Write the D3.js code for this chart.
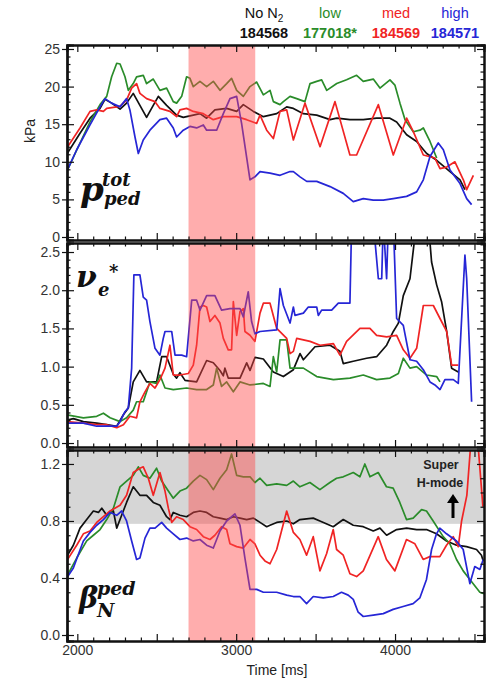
<!DOCTYPE html>
<html>
<head>
<meta charset="utf-8">
<script src="https://cdn.jsdelivr.net/npm/d3@7"></script>
<style>
body { margin: 0; background: #fff; }
svg { font-family: "Liberation Sans", Arial, sans-serif; }
.axis path { stroke: #111; stroke-width: 2; }
.axis line { stroke: #111; stroke-width: 1.2; }
.axis text { font-size: 14px; fill: #333; }
.math { font-family: "DejaVu Serif", serif; font-weight: bold; font-style: italic; fill: #111; }
</style>
</head>
<body>
<div id="chart"></div>
<script>
//Data - [time ms, value]
const shots = ['184568', '177018*', '184569', '184571'];
const shotNames = ['No N', 'low', 'med', 'high'];
const shotColors = ['#111111', '#2a8c2a', '#f02424', '#2626d6'];

// p_ped^tot (kPa)
const pBlack = [[1933,11.0],[2017,13.8],[2080,15.8],[2143,17.1],[2174,18.3],[2216,17.8],[2269,17.0],[2310,17.8],[2352,19.1],[2394,17.5],[2436,15.9],[2478,17.5],[2510,18.7],[2562,17.5],[2625,16.2],[2667,15.9],[2730,16.2],[2772,16.4],[2814,15.8],[2866,16.9],[2940,17.1],[3003,16.7],[3045,17.6],[3108,16.7],[3171,16.0],[3213,16.2],[3255,16.4],[3318,17.3],[3360,17.1],[3423,16.4],[3507,16.2],[3591,15.6],[3633,15.8],[3716,15.6],[3800,15.6],[3884,15.8],[3968,15.8],[4010,15.3],[4073,13.6],[4136,12.7],[4199,11.1],[4262,10.2],[4346,8.7],[4409,7.6],[4440,6.3]];
const pGreen = [[1933,8.7],[2017,12.5],[2080,15.3],[2143,17.6],[2185,18.7],[2216,21.3],[2248,23.1],[2269,23.0],[2300,21.3],[2321,19.5],[2352,20.4],[2373,21.3],[2415,21.5],[2436,20.4],[2478,21.0],[2520,19.5],[2562,19.8],[2604,18.0],[2625,17.8],[2657,18.7],[2688,21.3],[2709,21.1],[2730,20.0],[2772,20.7],[2814,20.0],[2856,20.7],[2898,19.5],[2940,20.4],[2971,21.1],[3003,19.5],[3045,18.7],[3087,20.0],[3129,20.6],[3171,18.9],[3213,19.5],[3234,18.0],[3276,17.6],[3297,18.0],[3339,18.7],[3381,18.4],[3433,18.0],[3465,20.4],[3507,20.7],[3538,20.9],[3570,19.5],[3633,20.4],[3695,20.9],[3758,21.5],[3800,20.7],[3863,21.0],[3905,19.8],[3968,20.9],[3999,20.2],[4031,17.8],[4063,15.6],[4115,14.0],[4157,14.2],[4178,14.5],[4220,12.7],[4262,10.5]];
const pRed = [[1933,11.8],[2017,14.5],[2080,16.7],[2122,16.9],[2164,16.7],[2185,17.1],[2248,17.3],[2269,17.4],[2310,18.2],[2342,19.8],[2373,20.4],[2394,19.1],[2436,18.4],[2489,18.0],[2520,17.1],[2583,16.7],[2625,16.0],[2646,16.9],[2688,17.1],[2730,16.7],[2793,16.4],[2856,15.6],[2919,16.0],[3003,16.0],[3066,15.6],[3129,15.1],[3150,16.2],[3192,14.2],[3234,13.1],[3276,16.7],[3318,16.9],[3360,12.9],[3433,17.8],[3528,12.0],[3622,18.0],[3716,10.9],[3758,10.9],[3895,17.6],[3989,10.9],[4073,15.8],[4115,14.0],[4178,10.9],[4251,10.5],[4283,9.1],[4325,9.3],[4377,10.0],[4430,7.6],[4451,6.3],[4493,8.2]];
const pBlue = [[1933,8.7],[1996,11.6],[2080,14.9],[2143,17.3],[2174,18.4],[2216,17.8],[2269,17.3],[2310,18.4],[2331,16.9],[2363,13.3],[2384,11.1],[2415,12.9],[2457,14.2],[2520,15.6],[2562,15.8],[2604,14.5],[2625,13.3],[2667,14.2],[2709,14.7],[2751,14.5],[2793,14.9],[2814,14.2],[2877,14.2],[2919,16.4],[2961,18.4],[3003,18.7],[3034,15.1],[3087,7.6],[3118,8.0],[3150,8.7],[3213,8.5],[3276,8.2],[3339,8.7],[3360,8.7],[3402,8.0],[3444,7.4],[3507,7.4],[3591,6.7],[3674,5.8],[3737,4.7],[3800,5.1],[3863,4.9],[3926,4.9],[3989,5.1],[4073,5.4],[4136,6.0],[4178,7.6],[4220,10.7],[4272,12.5],[4304,11.6],[4346,8.9],[4409,7.1],[4451,5.1],[4482,4.3]];

// nu_e^*
const nuBlack = [[1933,0.30],[1975,0.32],[2038,0.28],[2122,0.26],[2185,0.24],[2248,0.22],[2290,0.37],[2321,0.46],[2352,0.80],[2394,0.95],[2436,0.80],[2499,0.80],[2531,1.13],[2562,1.13],[2604,0.90],[2625,0.85],[2646,0.92],[2678,0.82],[2751,0.80],[2814,1.08],[2856,1.05],[2898,0.95],[2919,0.88],[2929,0.98],[2950,0.85],[3024,0.85],[3066,1.05],[3087,0.95],[3118,1.12],[3171,1.10],[3234,0.93],[3297,0.87],[3360,0.96],[3402,1.17],[3423,1.09],[3496,1.26],[3591,1.28],[3653,1.20],[3674,1.04],[3737,1.07],[3821,1.11],[3884,1.13],[3947,1.28],[3989,1.46],[4021,1.57],[4052,1.93],[4094,2.15],[4136,2.9],[4209,2.9],[4230,2.37],[4262,2.07],[4293,1.85],[4325,1.46],[4356,0.98],[4398,0.93]];
const nuGreen = [[1933,0.37],[2038,0.33],[2122,0.35],[2164,0.39],[2206,0.33],[2269,0.28],[2310,0.33],[2352,0.43],[2373,0.54],[2415,0.54],[2457,0.80],[2499,0.78],[2520,0.89],[2552,0.72],[2604,0.70],[2688,0.72],[2751,0.70],[2814,0.70],[2856,0.76],[2877,0.98],[2908,0.74],[2940,0.80],[2982,0.67],[3024,0.80],[3087,0.76],[3171,0.78],[3213,0.74],[3234,1.13],[3255,0.93],[3276,1.35],[3318,1.35],[3339,0.98],[3423,0.98],[3507,0.87],[3612,0.83],[3716,0.85],[3800,0.89],[3884,0.83],[3968,0.85],[4021,0.91],[4052,1.11],[4094,0.98],[4136,1.00],[4199,0.89],[4262,0.87],[4283,0.80]];
const nuRed = [[1933,0.28],[2038,0.26],[2122,0.24],[2185,0.24],[2248,0.20],[2290,0.24],[2331,0.35],[2373,0.33],[2394,0.54],[2426,0.67],[2457,0.78],[2489,0.72],[2520,0.83],[2552,0.98],[2583,1.28],[2604,0.89],[2646,0.89],[2699,0.91],[2730,1.02],[2751,1.28],[2772,1.78],[2793,1.80],[2814,1.78],[2835,1.59],[2866,1.67],[2898,1.57],[2919,1.37],[2950,1.22],[2971,1.22],[2982,1.85],[3003,1.41],[3024,1.72],[3045,1.76],[3055,1.46],[3087,1.41],[3118,1.33],[3150,1.70],[3171,1.83],[3213,1.83],[3255,1.50],[3318,1.37],[3339,1.17],[3360,1.20],[3381,1.37],[3465,1.33],[3528,1.28],[3612,1.30],[3653,1.15],[3695,1.33],[3779,1.50],[3842,1.50],[3884,1.41],[3947,1.39],[4010,1.41],[4052,1.22],[4094,1.11],[4136,1.24],[4178,1.80],[4241,1.80],[4283,1.63],[4325,1.46],[4356,1.02],[4398,1.02]];
const nuBlue = [[1933,0.26],[2038,0.26],[2122,0.22],[2248,0.22],[2269,0.28],[2300,0.41],[2321,0.46],[2342,0.98],[2356,2.20],[2394,2.20],[2415,1.91],[2436,1.87],[2457,1.59],[2489,1.24],[2520,1.15],[2541,1.37],[2552,1.46],[2594,1.46],[2615,1.15],[2657,1.15],[2688,1.13],[2720,1.87],[2751,1.87],[2772,1.74],[2814,1.93],[2866,1.93],[2908,1.74],[2961,1.76],[3024,1.76],[3045,1.65],[3076,1.98],[3097,1.59],[3118,1.43],[3150,1.46],[3255,1.48],[3276,2.02],[3297,1.80],[3339,1.57],[3360,1.78],[3370,1.67],[3423,1.70],[3454,1.78],[3507,1.78],[3517,1.67],[3538,1.74],[3601,1.74],[3643,1.83],[3716,1.83],[3727,2.9],[3863,2.9],[3895,2.15],[3916,2.15],[3926,2.9],[3947,2.15],[3958,2.9],[3989,2.9],[4010,1.63],[4052,1.54],[4094,1.09],[4136,1.07],[4178,0.96],[4220,0.80],[4251,0.76],[4283,0.70],[4314,0.83],[4367,0.83],[4398,0.78],[4440,2.46],[4451,2.15],[4482,0.54]];

// beta_N^ped
const betaBlack = [[1933,0.55],[1975,0.63],[2017,0.75],[2059,0.81],[2101,0.87],[2133,0.86],[2154,0.89],[2185,0.84],[2227,0.87],[2248,0.75],[2279,0.84],[2310,0.93],[2352,1.04],[2394,0.98],[2436,0.98],[2478,0.93],[2520,0.91],[2562,0.83],[2583,0.81],[2604,0.86],[2646,0.84],[2688,0.83],[2730,0.86],[2772,0.87],[2814,0.86],[2856,0.83],[2898,0.82],[2940,0.81],[2982,0.83],[3024,0.82],[3066,0.81],[3108,0.82],[3150,0.79],[3192,0.76],[3213,0.77],[3255,0.79],[3318,0.80],[3360,0.78],[3401,0.81],[3485,0.82],[3527,0.80],[3611,0.76],[3674,0.81],[3737,0.77],[3800,0.76],[3863,0.73],[3905,0.75],[3947,0.70],[4010,0.74],[4073,0.75],[4136,0.74],[4198,0.74],[4261,0.71],[4324,0.66],[4387,0.63],[4450,0.62],[4513,0.60],[4544,0.56],[4555,0.52]];
const betaGreen = [[1933,0.41],[1996,0.54],[2059,0.66],[2101,0.70],[2143,0.74],[2185,0.81],[2227,0.89],[2269,1.04],[2310,1.08],[2352,1.12],[2384,1.18],[2415,1.12],[2457,1.10],[2499,1.17],[2531,1.08],[2573,1.01],[2604,0.96],[2646,1.01],[2688,1.03],[2730,1.08],[2772,1.12],[2814,1.09],[2856,1.02],[2898,1.10],[2940,1.16],[2971,1.27],[3003,1.12],[3045,1.11],[3087,1.11],[3118,1.07],[3150,1.10],[3192,1.05],[3255,1.06],[3318,1.05],[3360,1.08],[3401,1.04],[3464,1.07],[3527,1.02],[3590,1.07],[3632,1.10],[3674,1.11],[3737,1.14],[3779,1.11],[3810,1.20],[3842,1.11],[3894,1.14],[3946,1.04],[3988,1.03],[4030,0.93],[4072,0.81],[4114,0.82],[4167,0.88],[4198,0.87],[4240,0.80],[4303,0.69],[4345,0.64],[4387,0.53],[4429,0.45],[4471,0.39],[4534,0.30],[4560,0.29]];
const betaRed = [[1933,0.52],[1996,0.63],[2038,0.71],[2080,0.73],[2122,0.79],[2164,0.83],[2206,0.87],[2269,0.91],[2310,0.98],[2352,1.14],[2394,1.17],[2415,1.18],[2447,1.10],[2478,0.98],[2520,1.14],[2552,1.01],[2573,0.89],[2594,0.79],[2625,0.83],[2667,0.81],[2709,0.76],[2751,0.74],[2793,0.69],[2835,0.67],[2866,0.70],[2908,0.76],[2940,0.74],[2961,0.64],[3003,0.62],[3045,0.61],[3087,0.67],[3118,0.64],[3150,0.56],[3181,0.52],[3213,0.50],[3255,0.60],[3318,0.87],[3360,0.72],[3401,0.67],[3443,0.56],[3485,0.69],[3527,0.45],[3569,0.57],[3611,0.74],[3632,0.60],[3674,0.56],[3716,0.43],[3758,0.41],[3800,0.45],[3894,0.69],[3946,0.53],[3999,0.45],[4072,0.67],[4125,0.64],[4177,0.53],[4219,0.55],[4282,0.55],[4324,0.63],[4366,0.69],[4398,0.62],[4419,0.80],[4452,0.98],[4484,1.45],[4510,1.50],[4525,1.30],[4553,0.90]];
const betaBlue = [[1933,0.40],[1975,0.47],[2038,0.66],[2080,0.72],[2122,0.77],[2164,0.81],[2206,0.86],[2248,0.84],[2279,0.87],[2310,0.80],[2342,0.66],[2373,0.53],[2394,0.54],[2426,0.68],[2457,0.75],[2489,0.75],[2531,0.79],[2562,0.75],[2604,0.71],[2646,0.67],[2688,0.68],[2730,0.66],[2772,0.67],[2814,0.63],[2856,0.61],[2898,0.73],[2940,0.80],[2992,0.85],[3024,0.77],[3055,0.54],[3087,0.32],[3129,0.32],[3171,0.30],[3213,0.30],[3255,0.30],[3318,0.28],[3360,0.27],[3401,0.27],[3443,0.22],[3485,0.27],[3548,0.26],[3611,0.27],[3663,0.30],[3705,0.28],[3737,0.25],[3768,0.16],[3800,0.13],[3863,0.14],[3926,0.15],[3988,0.18],[4051,0.20],[4114,0.22],[4156,0.26],[4198,0.39],[4230,0.60],[4261,0.71],[4282,0.75],[4324,0.71],[4387,0.66],[4429,0.60],[4471,0.36],[4502,0.48],[4534,0.46],[4555,0.53]];

// ticks
const pTicks = [0, 5, 10, 15, 20, 25];
const nuTicks = [0, 0.5, 1.0, 1.5, 2.0, 2.5];
const betaTicks = [0, 0.4, 0.8, 1.2];
const timeTicks = [2000, 3000, 4000];
const seedWindow = [2700, 3120];   // shaded red band (ms)
const superHLevel = 0.78;          // beta above this -> Super H-mode

//Canvas
const svg_width = 489;
const svg_height = 680;
const chart_left = 67;
const chart_right = 484;

const svg = d3.select('#chart').append('svg')
    .attr('width', svg_width).attr('height', svg_height);

const xScale = d3.scaleLinear().domain([1935, 4560]).range([chart_left, chart_right]);

const panels = [
    { top: 45, bottom: 240, domain: [-0.4, 25.53], ticks: pTicks, minor: 1, fmt: d3.format('d'),
      series: [pBlack, pGreen, pRed, pBlue] },
    { top: 243, bottom: 447, domain: [-0.052, 2.618], ticks: nuTicks, minor: 0.1, fmt: d3.format('.1f'),
      series: [nuBlack, nuGreen, nuRed, nuBlue] },
    { top: 450, bottom: 641, domain: [-0.042, 1.298], ticks: betaTicks, minor: 0.1, fmt: d3.format('.1f'),
      series: [betaBlack, betaGreen, betaRed, betaBlue], superH: true }
];

const xMajor = d3.range(2000, 4560, 500);
const xMinor = d3.range(2000, 4560, 100).filter(d => d % 500 !== 0);

panels.forEach((p, i) => {
    const yScale = d3.scaleLinear().domain(p.domain).range([p.bottom, p.top]);
    const g = svg.append('g');

    g.append('clipPath').attr('id', 'clip' + i)
        .append('rect')
        .attr('x', chart_left).attr('y', p.top)
        .attr('width', chart_right - chart_left).attr('height', p.bottom - p.top);

    //grey Super H-mode region, under the lines
    if (p.superH) {
        g.append('rect')
            .attr('x', chart_left).attr('y', p.top)
            .attr('width', chart_right - chart_left)
            .attr('height', yScale(superHLevel) - p.top)
            .style('fill', '#d6d6d6');
    }

    const line = d3.line().x(d => xScale(d[0])).y(d => yScale(d[1]));
    const lines = g.append('g').attr('clip-path', `url(#clip${i})`);
    p.series.forEach((s, k) => {
        lines.append('path').datum(s)
            .attr('d', line)
            .style('fill', 'none')
            .style('stroke', shotColors[k])
            .style('stroke-width', 1.7)
            .style('stroke-linejoin', 'round');
    });

    //red band drawn over the lines
    g.append('rect')
        .attr('x', xScale(seedWindow[0])).attr('y', p.top)
        .attr('width', xScale(seedWindow[1]) - xScale(seedWindow[0]))
        .attr('height', p.bottom - p.top)
        .style('fill', '#ff4a4a').style('fill-opacity', 0.45);

    //y axes - major ticks cross the frame, minor ones point inwards
    const yMinor = d3.range(Math.ceil(p.domain[0] / p.minor) * p.minor, p.domain[1], p.minor)
        .map(d => +d.toFixed(2)).filter(d => !p.ticks.includes(d));
    g.append('g').attr('class', 'axis')
        .attr('transform', `translate(${chart_left},0)`)
        .call(d3.axisLeft(yScale).tickValues(p.ticks).tickFormat(p.fmt).tickSizeInner(5).tickSizeOuter(0).tickPadding(2));
    [[-7, p.ticks], [-3.5, yMinor]].forEach(([size, vals]) => {
        g.append('g').attr('class', 'axis')
            .attr('transform', `translate(${chart_left},0)`)
            .call(d3.axisLeft(yScale).tickValues(vals).tickFormat('').tickSize(size));
        g.append('g').attr('class', 'axis')
            .attr('transform', `translate(${chart_right},0)`)
            .call(d3.axisRight(yScale).tickValues(vals).tickFormat('').tickSize(size));
    });

    //x axes on top and bottom of every panel
    [[-7, xMajor], [-3.5, xMinor]].forEach(([size, vals]) => {
        g.append('g').attr('class', 'axis')
            .attr('transform', `translate(0,${p.top})`)
            .call(d3.axisTop(xScale).tickValues(vals).tickFormat('').tickSize(size));
        g.append('g').attr('class', 'axis')
            .attr('transform', `translate(0,${p.bottom})`)
            .call(d3.axisBottom(xScale).tickValues(vals).tickFormat('').tickSize(size));
    });
    g.selectAll('.axis path').style('fill', 'none');

    if (i === panels.length - 1) {
        const xLab = g.append('g').attr('class', 'axis')
            .attr('transform', `translate(0,${p.bottom})`)
            .call(d3.axisBottom(xScale).tickValues(timeTicks).tickFormat(d3.format('d')).tickSize(0).tickPadding(4));
        xLab.select('.domain').remove();
    }
});

//Math labels - one text each, sup/sub as tspans
function mathLabel(x, y, base, baseSize, sup, supDx, supDy, sub, subDx, subDy, small) {
    const t = svg.append('text').attr('class', 'math').attr('x', x).attr('y', y);
    t.append('tspan').style('font-size', baseSize + 'px').text(base);
    t.append('tspan').attr('x', x + supDx).attr('y', y + supDy).style('font-size', small + 'px').text(sup);
    t.append('tspan').attr('x', x + subDx).attr('y', y + subDy).style('font-size', small + 'px').text(sub);
}
mathLabel(80, 201, 'p', 34, 'tot', 22, -15, 'ped', 24, 4, 18);
mathLabel(76, 287, 'ν', 30, '*', 33, -9, 'e', 22, 9, 18);
mathLabel(79, 608, 'β', 29, 'ped', 18, -13, 'N', 18, 9, 19);

//Super H-mode note
const note = svg.append('g').style('font-weight', 'bold').style('font-size', '12.5px').style('fill', '#222');
note.append('text').attr('x', 441).attr('y', 469).attr('text-anchor', 'middle').text('Super');
note.append('text').attr('x', 440).attr('y', 487).attr('text-anchor', 'middle').text('H-mode');
svg.append('line').attr('x1', 453).attr('x2', 453).attr('y1', 518).attr('y2', 502)
    .style('stroke', '#000').style('stroke-width', 3);
svg.append('path').attr('d', 'M447,503 L453,494 L459,503 Z').style('fill', '#000');

//axis titles
svg.append('text').attr('transform', 'translate(35,131) rotate(-90)')
    .attr('text-anchor', 'middle').style('font-size', '14px').style('fill', '#222').text('kPa');
svg.append('text').attr('x', 277).attr('y', 675)
    .attr('text-anchor', 'middle').style('font-size', '14px').style('fill', '#222').text('Time [ms]');

//legend
const legendX = [264, 330, 396, 455];
shots.forEach((s, k) => {
    const top = svg.append('text').attr('x', legendX[k]).attr('y', 18)
        .attr('text-anchor', 'middle').style('font-size', '14.5px').style('fill', shotColors[k])
        .text(shotNames[k]);
    if (k === 0) top.append('tspan').attr('dy', 4).style('font-size', '10px').text('2');
    svg.append('text').attr('x', legendX[k]).attr('y', 38)
        .attr('text-anchor', 'middle').style('font-size', '14.5px').style('font-weight', 'bold')
        .style('fill', shotColors[k]).text(s);
});
</script>
</body>
</html>
